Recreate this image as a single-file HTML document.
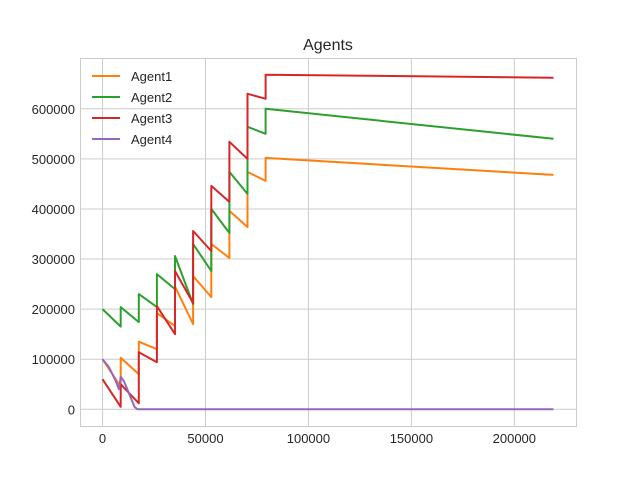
<!DOCTYPE html>
<html><head><meta charset="utf-8"><style>
html,body{margin:0;padding:0;background:#fff;}
svg text{font-family:"Liberation Sans",sans-serif;fill:#262626;}
</style></head><body>
<svg id="chart" width="640" height="480" viewBox="0 0 640 480" xmlns="http://www.w3.org/2000/svg">
<rect width="640" height="480" fill="#fff"/>
<text x="328" y="50" font-size="16" text-anchor="middle">Agents</text>
<g id="grid"></g><g id="series"></g><g id="ticks"></g>
<rect x="80.5" y="58.5" width="496" height="368" fill="none" stroke="#cccccc" stroke-width="1"/>
<g id="legend"></g>
</svg>
<script>
const xTicks=[0,50000,100000,150000,200000];
const yTicks=[0,100000,200000,300000,400000,500000,600000];
const seriesNames=["Agent1","Agent2","Agent3","Agent4"];
const seriesColors=["#ff7f0e","#2ca02c","#d62728","#9467bd"];
const jumpX=[0,8800,17600,26400,35200,44000,52800,61600,70400,79200,219000];
const agent1Start=[100000,103000,135000,192000,245000,266000,330000,396000,474000,502000];
const agent1End=[45000,70000,120000,166000,170000,224000,302000,364000,456000,468000];
const agent2Start=[200000,204000,230000,270000,306000,330000,400000,474000,564000,600000];
const agent2End=[165000,174000,204000,240000,210000,276000,352000,430000,550000,540000];
const agent3Start=[60000,50000,114000,206000,276000,356000,446000,534000,630000,668000];
const agent3End=[5000,12000,94000,150000,212000,316000,414000,500000,620000,662000];
const agent4X=[0,3000,6000,8000,8800,10500,13000,15500,17000,219000];
const agent4Y=[100000,85000,60000,40000,65000,55000,30000,5000,0,0];

const X0=80,X1=576,Y0=426,Y1=58;
const xmin=-10950,xmax=229950,ymin=-33400,ymax=701400;
const sx=v=>X0+(v-xmin)/(xmax-xmin)*(X1-X0);
const sy=v=>Y0-(v-ymin)/(ymax-ymin)*(Y0-Y1);
const NS="http://www.w3.org/2000/svg";
function mk(tag,attrs,parent){const e=document.createElementNS(NS,tag);for(const k in attrs)e.setAttribute(k,attrs[k]);parent.appendChild(e);return e;}
const grid=document.getElementById('grid'),ticks=document.getElementById('ticks'),ser=document.getElementById('series'),leg=document.getElementById('legend');
xTicks.forEach(t=>{const x=sx(t);
 const l=mk('line',{x1:x,x2:x,y1:Y1,y2:Y0,stroke:'#cccccc','stroke-width':1},grid);
 
 
 const tx=mk('text',{x:x,y:Y0+17,'font-size':13,'text-anchor':'middle'},ticks);tx.textContent=String(t);
 
 
});
yTicks.forEach(t=>{const y=sy(t);
 const l=mk('line',{x1:X0,x2:X1,y1:y,y2:y,stroke:'#cccccc','stroke-width':1},grid);
 
 
 const tx=mk('text',{x:X0-5,y:y+5,'font-size':13,'text-anchor':'end'},ticks);tx.textContent=String(t);
 
 
});
function stepPts(starts,ends){const p=[];for(let i=0;i<starts.length;i++){p.push([jumpX[i],starts[i]]);p.push([jumpX[i+1],ends[i]]);}return p;}
const allPts=[stepPts(agent1Start,agent1End),stepPts(agent2Start,agent2End),stepPts(agent3Start,agent3End),agent4X.map((x,i)=>[x,agent4Y[i]])];
allPts.forEach((pts,i)=>{
 const d=pts.map((p,j)=>(j?'L':'M')+sx(p[0]).toFixed(1)+' '+sy(p[1]).toFixed(1)).join(' ');
 const path=mk('path',{d:d,fill:'none',stroke:seriesColors[i],'stroke-width':2,'stroke-linejoin':'round'},ser);
 
 
});
seriesNames.forEach((n,i)=>{const y=76+i*21;
 const g=mk('g',{},leg);
 
 
 mk('line',{x1:92,x2:120,y1:y,y2:y,stroke:seriesColors[i],'stroke-width':2},g);
 const t=mk('text',{x:131,y:y+5,'font-size':13},g);t.textContent=n;
});
</script>
</body></html>
